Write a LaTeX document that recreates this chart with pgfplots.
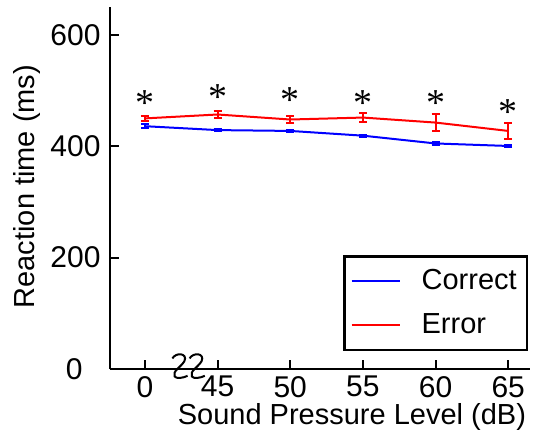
\documentclass[border=0pt]{standalone}
\usepackage{fontspec}
\setmainfont{Liberation Sans}
\newfontfamily\starfont{Liberation Serif}
\usepackage{pgfplots}
\pgfplotsset{compat=1.18}

% squiggle used to mark the break in the x axis
\tikzset{
  axisbreak/.pic={
    \draw[line width=1pt, black]
      (-3.8pt,3.8pt) .. controls (-2pt,7pt) and (4pt,6.5pt) .. (2.2pt,2.4pt)
      .. controls (0.5pt,-0.5pt) and (-4pt,-2.7pt) .. (-2.7pt,-5.2pt)
      .. controls (-1.9pt,-6.5pt) and (1.6pt,-6pt) .. (3.8pt,-4.9pt);
  }
}

\begin{document}
\begin{tikzpicture}
\useasboundingbox (-55pt,-39pt) rectangle (219.5pt,184.5pt);
\begin{axis}[
  scale only axis,
  width=210pt, height=181pt,
  at={(0,0)}, anchor=south west,
  xmin=-0.48, xmax=5.3,
  ymin=0, ymax=650,
  axis lines=left,
  axis line style={line width=1.2pt, -},
  xtick={0,1,2,3,4,5},
  xticklabels={0,45,50,55,60,65},
  ytick={200,400,600},
  extra y ticks={0},
  extra y tick style={major tick length=0pt, yticklabel style={xshift=-9pt}},
  tick align=inside,
  major tick length=4.5pt,
  tick style={line width=1pt, black},
  font=\fontsize{14.5}{17}\selectfont,
  tick label style={font=\fontsize{15}{17}\selectfont},
  /pgf/number format/assume math mode=true,
  yticklabel style={xshift=-1.2pt},
  xlabel={Sound Pressure Level (dB)},
  ylabel={Reaction time (ms)},
  x label style={at={(axis description cs:0.576,-0.133)}, anchor=center},
  y label style={at={(axis description cs:-0.198,0.504)}, anchor=center},
  legend style={
    at={(rel axis cs:0.995,0.05)}, anchor=south east,
    draw=black, line width=1.2pt,
    font=\fontsize{14.5}{17}\selectfont,
    inner xsep=3pt, inner ysep=4.5pt,
    row sep=6.5pt,
  },
  legend cell align=left,
  legend image code/.code={
    \draw[#1, line width=1pt] (1.5pt,0pt) -- (25.5pt,0pt);
    \path (34pt,0pt);
  },
  clip=false,
]

% mean reaction time, correct responses
\addplot[blue, line width=1pt,
  error bars/.cd, y dir=both, y explicit,
  error mark options={rotate=90, mark size=2pt, line width=1pt, blue},
  error bar style={line width=1pt, blue}]
  coordinates {
    (0,436)   +- (0,4)
    (1,429)   +- (0,2.5)
    (2,427.5) +- (0,2.5)
    (3,419)   +- (0,2)
    (4,405)   +- (0,2)
    (5,400.5) +- (0,2)
  };
\addlegendentry{Correct}

% mean reaction time, error responses
\addplot[red, line width=1pt,
  error bars/.cd, y dir=both, y explicit,
  error mark options={rotate=90, mark size=2pt, line width=1pt, red},
  error bar style={line width=1pt, red}]
  coordinates {
    (0,450)   +- (0,4)
    (1,457)   +- (0,6)
    (2,448)   +- (0,6.5)
    (3,451.5) +- (0,8)
    (4,442.5) +- (0,15.5)
    (5,427.5) +- (0,14)
  };
\addlegendentry{Error}

% significance markers
\addplot[draw=none, mark=none, forget plot,
  nodes near coords={\starfont *},
  every node near coord/.style={anchor=base, yshift=-9.7pt,
    font=\fontsize{19}{19}\selectfont, text=black}]
  coordinates {
    (0,490) (1,500) (2,496) (3,490) (4,490) (5,474)
  };

% break between 0 and 45
\path (axis cs:0.483,0) pic[yshift=1.5pt] {axisbreak};
\path (axis cs:0.72,0) pic[yshift=1.5pt] {axisbreak};
\end{axis}
\end{tikzpicture}
\end{document}
